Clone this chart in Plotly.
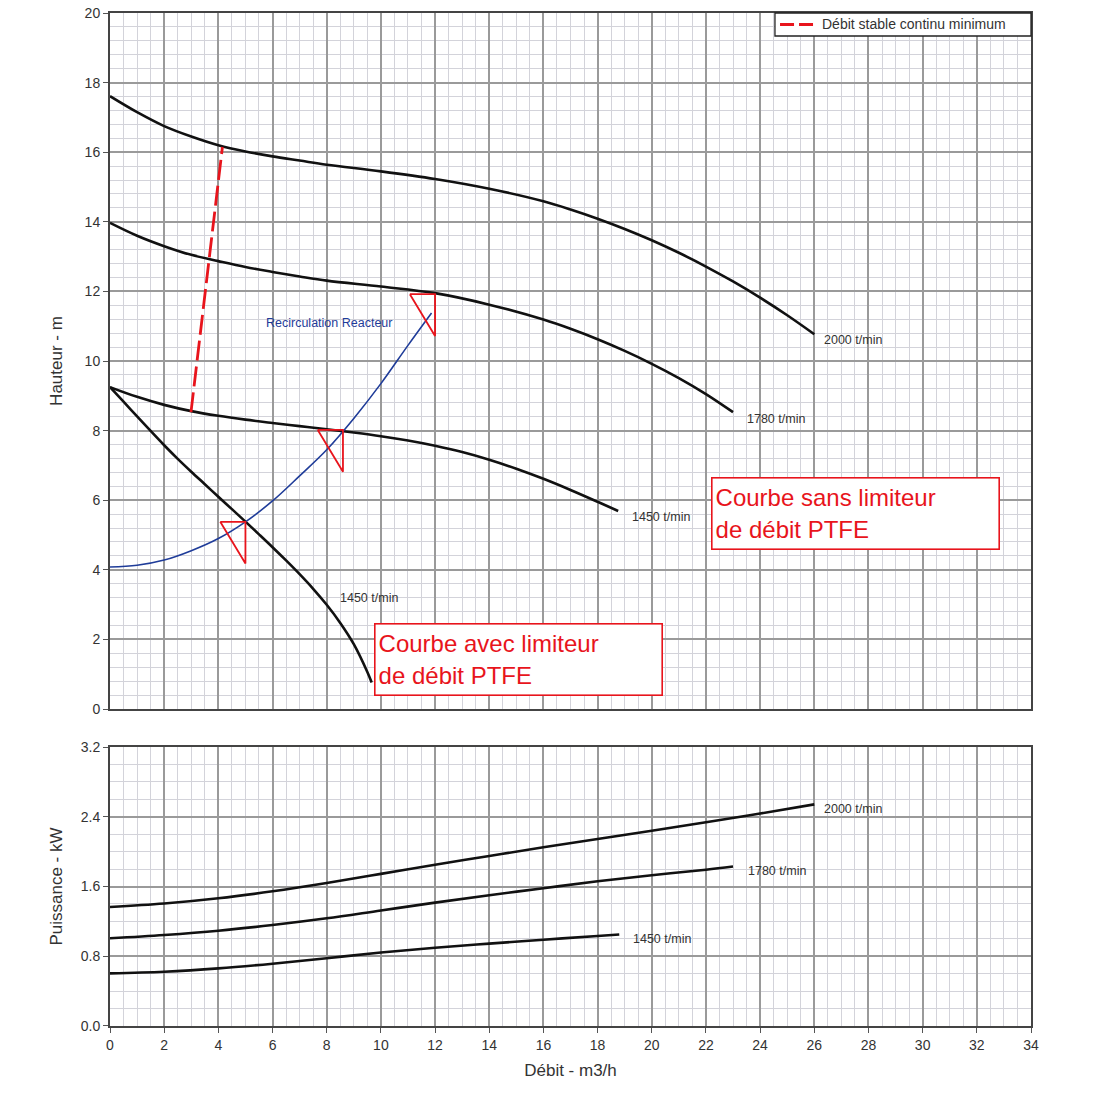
import plotly.graph_objects as go

# ---------------- DATA ----------------
# Head curves (Hauteur - m) vs Débit (m3/h)
q_2000 = [0, 1, 2, 3, 4, 5, 6, 7, 8, 10, 12, 14, 16, 17, 18, 19, 20, 21, 22, 23, 24, 25, 26]
h_2000 = [17.61, 17.15, 16.75, 16.45, 16.2, 16.02, 15.88, 15.76, 15.64, 15.45, 15.23, 14.95, 14.59, 14.355, 14.09, 13.795, 13.47, 13.11, 12.715, 12.285, 11.82, 11.315, 10.77]

q_1780 = [0, 1, 2, 3, 4, 5, 6, 7, 8, 10, 12, 14, 16, 17, 18, 19, 20, 21, 22, 23]
h_1780 = [13.97, 13.6, 13.3, 13.05, 12.87, 12.7, 12.56, 12.43, 12.31, 12.14, 11.95, 11.62, 11.19, 10.925, 10.625, 10.29, 9.92, 9.51, 9.05, 8.53]

q_1450 = [0, 1, 2, 3, 4, 5, 6, 7, 8, 9, 10, 11, 12, 13, 14, 15, 16, 17, 18, 18.76]
h_1450 = [9.25, 8.97, 8.74, 8.56, 8.425, 8.315, 8.22, 8.13, 8.04, 7.945, 7.84, 7.715, 7.565, 7.385, 7.165, 6.905, 6.615, 6.295, 5.955, 5.69]

q_1450_lim = [0, 0.5, 1, 1.5, 2, 2.5, 3, 3.5, 4, 4.5, 5, 5.5, 6, 6.5, 7, 7.5, 8, 8.5, 9, 9.5, 9.66]
h_1450_lim = [9.25, 8.83, 8.41, 7.99, 7.58, 7.19, 6.82, 6.46, 6.1, 5.745, 5.385, 5.02, 4.65, 4.27, 3.875, 3.455, 2.995, 2.475, 1.865, 1.065, 0.76]

q_recirc = [0, 1, 2, 3, 4, 5, 6, 7, 8, 9, 10, 11, 11.87]
h_recirc = [4.08, 4.13, 4.28, 4.55, 4.9, 5.38, 5.98, 6.7, 7.45, 8.35, 9.35, 10.45, 11.38]

q_min = [2.99, 4.15]
h_min = [8.53, 16.15]

# Operating points (flags)
op_q = [5.0, 8.6, 12.0]
op_h = [5.38, 8.02, 11.92]

# Power curves (Puissance - kW)
qp_2000 = [0, 2, 4, 6, 8, 10, 12, 14, 16, 18, 20, 22, 24, 26]
p_2000 = [1.365, 1.405, 1.465, 1.545, 1.64, 1.745, 1.85, 1.95, 2.05, 2.145, 2.24, 2.337, 2.437, 2.542]

qp_1780 = [0, 2, 4, 6, 8, 10, 12, 14, 16, 18, 20, 22, 23]
p_1780 = [1.006, 1.044, 1.093, 1.158, 1.235, 1.325, 1.415, 1.5, 1.58, 1.66, 1.73, 1.793, 1.83]

qp_1450 = [0, 2, 4, 6, 8, 10, 12, 14, 16, 18, 18.8]
p_1450 = [0.604, 0.623, 0.661, 0.715, 0.778, 0.843, 0.898, 0.945, 0.99, 1.033, 1.05]

x_ticks = list(range(0, 35, 2))
h_ticks = list(range(0, 21, 2))
p_ticks = [0.0, 0.8, 1.6, 2.4, 3.2]
p_tick_labels = ["0.0", "0.8", "1.6", "2.4", "3.2"]

legend_text = "Débit stable continu minimum"

# ---------------- STYLE ----------------
FONT = "Arial, Liberation Sans, sans-serif"
TXT = "#333333"
RED = "#e8141c"
BLUE = "#1f3c99"
MAJOR = "#9a9a9a"
MINOR = "#d3d3da"
FLAG_W = 0.93
FLAG_H = 1.2

fig = go.Figure()

def curve(x, y, color="#111111", width=2.6, xa="x", ya="y"):
    fig.add_trace(go.Scatter(x=x, y=y, mode="lines", xaxis=xa, yaxis=ya,
                             line=dict(color=color, width=width, shape="spline", smoothing=1.0),
                             showlegend=False, hoverinfo="skip"))

curve(q_2000, h_2000)
curve(q_1780, h_1780)
curve(q_1450, h_1450)
curve(q_1450_lim, h_1450_lim)
curve(q_recirc, h_recirc, color=BLUE, width=1.6)

fig.add_trace(go.Scatter(x=q_min, y=h_min, mode="lines",
                         line=dict(color=RED, width=2.8, dash="20px,6px"),
                         name=legend_text, showlegend=False, hoverinfo="skip"))

for qx, hy in zip(op_q, op_h):
    fig.add_trace(go.Scatter(x=[qx - FLAG_W, qx, qx, qx - FLAG_W],
                             y=[hy, hy, hy - FLAG_H, hy], mode="lines",
                             line=dict(color=RED, width=1.8), showlegend=False, hoverinfo="skip"))

curve(qp_2000, p_2000, xa="x2", ya="y2")
curve(qp_1780, p_1780, xa="x2", ya="y2")
curve(qp_1450, p_1450, xa="x2", ya="y2")

def axis_common(ticks="outside"):
    return dict(showline=True, mirror=True, linecolor="#444444", linewidth=2,
                showgrid=True, gridcolor=MAJOR, gridwidth=1.6, zeroline=False,
                ticks=ticks, ticklen=5, tickcolor="#555555", automargin=False,
                tickfont=dict(family=FONT, size=14, color=TXT))

fig.update_layout(
    width=1100, height=1100,
    margin=dict(l=110, r=69, t=13, b=74),
    paper_bgcolor="white", plot_bgcolor="white",
    font=dict(family=FONT, color=TXT),
    showlegend=False,
    xaxis=dict(range=[0, 34], tickvals=x_ticks, showticklabels=False, anchor="y",
               minor=dict(dtick=0.5, showgrid=True, gridcolor=MINOR, gridwidth=1.3, ticks=""),
               **axis_common("")),
    yaxis=dict(range=[0, 20], tickvals=h_ticks, domain=[0.3129, 1.0], anchor="x",
               minor=dict(dtick=0.4, showgrid=True, gridcolor=MINOR, gridwidth=1.3, ticks=""),
               title=dict(text="Hauteur - m", font=dict(family=FONT, size=17, color=TXT), standoff=18),
               **axis_common()),
    xaxis2=dict(range=[0, 34], tickvals=x_ticks, anchor="y2",
                minor=dict(dtick=0.5, showgrid=True, gridcolor=MINOR, gridwidth=1.3, ticks=""),
                title=dict(text="Débit - m3/h", font=dict(family=FONT, size=17, color=TXT), standoff=12),
                **axis_common()),
    yaxis2=dict(range=[0, 3.2], tickvals=p_ticks, ticktext=p_tick_labels, domain=[0.0, 0.2754], anchor="x2",
                minor=dict(dtick=0.2, showgrid=True, gridcolor=MINOR, gridwidth=1.3, ticks=""),
                title=dict(text="Puissance - kW", font=dict(family=FONT, size=17, color=TXT), standoff=14),
                **axis_common()),
)

# Custom legend box (paper coordinates)
fig.add_shape(type="rect", xref="paper", yref="paper", x0=0.722, x1=1.0, y0=0.9773, y1=1.0,
              line=dict(color="#222222", width=1.3), fillcolor="white", layer="above")
fig.add_shape(type="line", xref="paper", yref="paper", x0=0.7275, x1=0.7644, y0=0.9887, y1=0.9887,
              line=dict(color=RED, width=3, dash="14px,5px"), layer="above")
fig.add_annotation(xref="paper", yref="paper", x=0.7709, y=0.9887, text=legend_text, showarrow=False,
                   xanchor="left", yanchor="middle", font=dict(family=FONT, size=14, color=TXT))

def label(x, y, text, xa="x", ya="y", color=TXT, size=12.5):
    fig.add_annotation(x=x, y=y, xref=xa, yref=ya, text=text, showarrow=False,
                       xanchor="left", yanchor="middle",
                       font=dict(family=FONT, size=size, color=color))

label(26.28, 10.6, "2000 t/min")
label(23.44, 8.33, "1780 t/min")
label(19.2, 5.52, "1450 t/min")
label(8.42, 3.19, "1450 t/min")
label(5.68, 11.09, "Recirculation Reacteur", color=BLUE, size=12.5)

label(26.3, 2.49, "2000 t/min", xa="x2", ya="y2")
label(23.48, 1.78, "1780 t/min", xa="x2", ya="y2")
label(19.23, 1.0, "1450 t/min", xa="x2", ya="y2")

def red_box(x, y, text):
    fig.add_annotation(x=x, y=y, xref="x", yref="y", text=text, showarrow=False,
                       xanchor="left", yanchor="top", align="left",
                       width=280, height=64, valign="middle",
                       bordercolor=RED, borderwidth=1.6, borderpad=3, bgcolor="white",
                       font=dict(family=FONT, size=24, color=RED))

red_box(22.19, 6.67, "Courbe sans limiteur<br>de débit PTFE")
red_box(9.75, 2.47, "Courbe avec limiteur<br>de débit PTFE")

fig.write_html("out.html", config={"displayModeBar": False},
               post_script="document.body.style.margin='0';")
